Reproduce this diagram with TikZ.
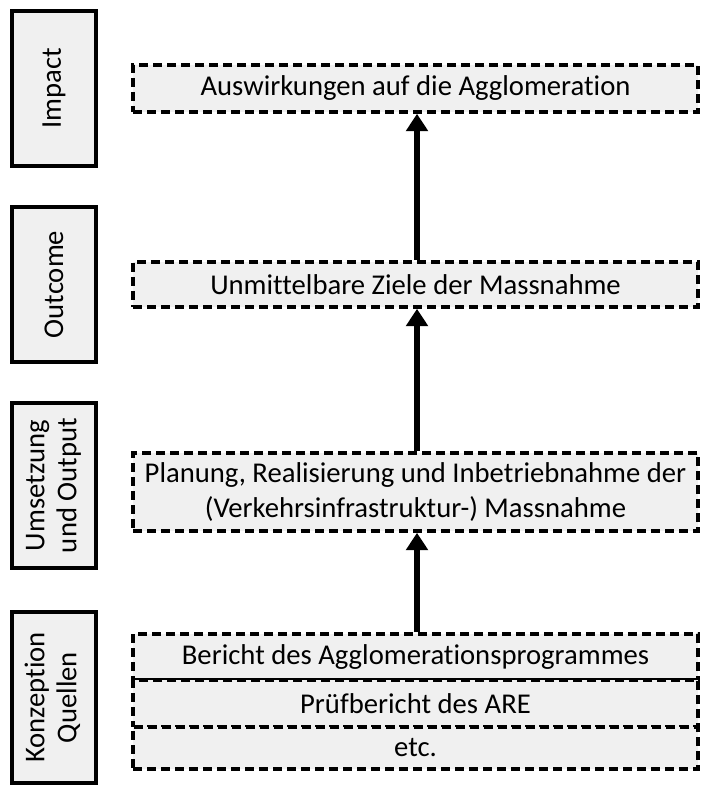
\documentclass[tikz,border=0pt]{standalone}
\usepackage{fontspec}
\setmainfont[Ligatures=NoCommon]{Carlito}
\usetikzlibrary{arrows.meta}
\definecolor{boxfill}{HTML}{F0F0F0}
\begin{document}
\begin{tikzpicture}[x=0.75pt,y=-0.75pt,
  levelbox/.style={draw=black, line width=3pt, fill=boxfill, minimum width=63pt, inner sep=0pt, font=\fontsize{21.5}{24}\selectfont, align=center},
  dashbox/.style={draw=black, line width=2.7pt, dash pattern=on 7pt off 3.5pt, fill=boxfill, minimum width=423.75pt, inner sep=0pt, font=\fontsize{21.5}{26.5}\selectfont, align=center},
  flow/.style={line width=4.2pt, -{Triangle[length=13pt,width=16pt]}}
]
\useasboundingbox (0,0) rectangle (705,787);
% left level boxes
\node[levelbox, minimum height=116.25pt] (impact) at (54,88.5) {\rotatebox{90}{Impact}};
\node[levelbox, minimum height=116.25pt] (outcome) at (54,284.5) {\rotatebox{90}{Outcome}};
\node[levelbox, minimum height=123.75pt] (umsetzung) at (54,485.5) {\rotatebox{90}{\begin{tabular}{@{}c@{}}Umsetzung\\und Output\end{tabular}}};
\node[levelbox, minimum height=128.25pt] (konzeption) at (54,697.5) {\rotatebox{90}{\begin{tabular}{@{}c@{}}Konzeption\\Quellen\end{tabular}}};
% dashed boxes
\node[dashbox, minimum height=35.25pt] (auswirk) at (415.5,88.5) {Auswirkungen auf die Agglomeration};
\node[dashbox, minimum height=33.75pt] (ziele) at (415.5,284.5) {Unmittelbare Ziele der Massnahme};
\node[dashbox, minimum height=58.5pt] (planung) at (415.5,492) {Planung, Realisierung und Inbetriebnahme der\\(Verkehrsinfrastruktur-) Massnahme};
\node[dashbox, minimum height=34.5pt] (bericht) at (415.5,657) {Bericht des Agglomerationsprogrammes};
\node[dashbox, minimum height=35.25pt] (pruef) at (415.5,703.5) {Prüfbericht des ARE};
\node[dashbox, minimum height=31.5pt] (etc) at (415.5,748) {etc.};
% arrows
\draw[flow] (bericht.north -| 417,0) -- (planung.south -| 417,0);
\draw[flow] (planung.north -| 417,0) -- (ziele.south -| 417,0);
\draw[flow] (ziele.north -| 417,0) -- (auswirk.south -| 417,0);
\end{tikzpicture}
\end{document}
